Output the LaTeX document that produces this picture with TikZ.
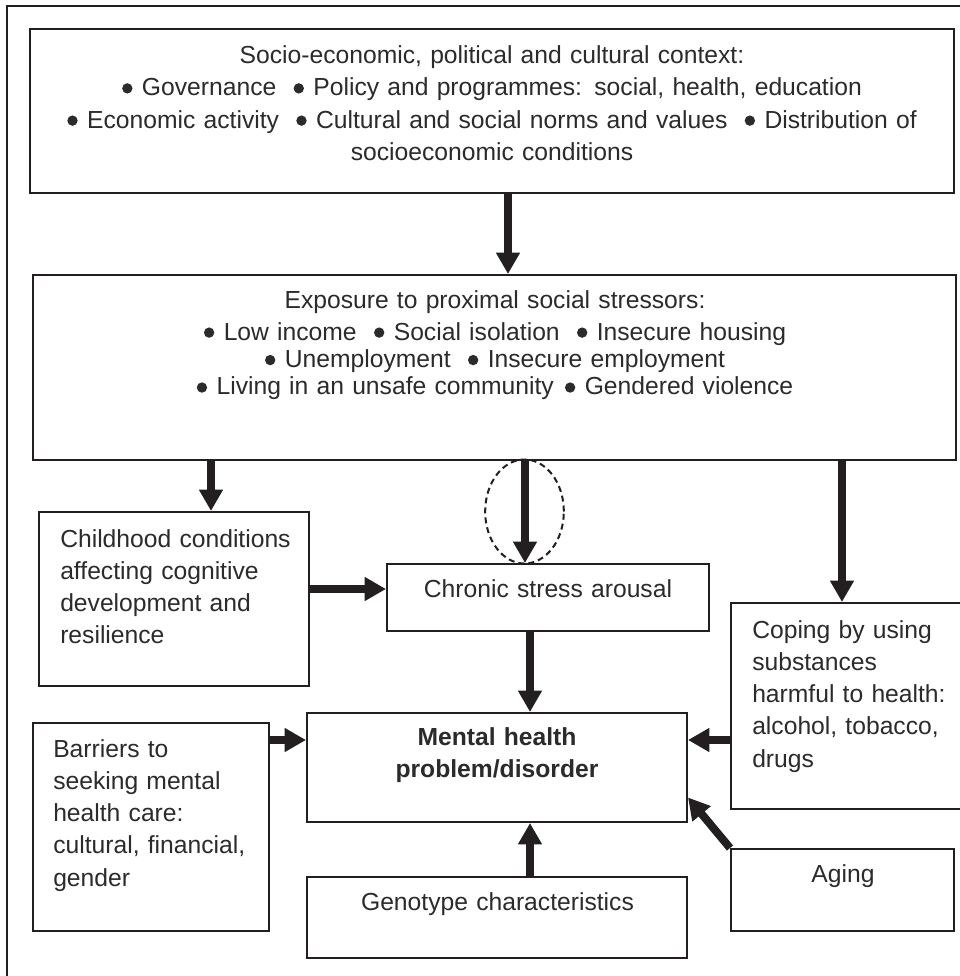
\documentclass[tikz,border=0pt]{standalone}
\usepackage{fontspec}
\setmainfont{Liberation Sans}
\usetikzlibrary{arrows.meta,fit,calc,shapes.geometric}
\definecolor{ink}{HTML}{231F20}
\definecolor{textc}{HTML}{2B2B2B}
\newcommand{\dotbul}{\tikz[baseline=0pt]\fill[textc] (0.22em,0.3em) circle[radius=0.21em];\hspace{0.05em}}
\begin{document}
\begin{tikzpicture}[x=0.75pt,y=-0.75pt,
  box/.style={draw=ink,line width=1.5pt,inner sep=0pt},
  txt/.style={inner sep=0pt,text=textc,font=\fontsize{18.5}{24.2}\selectfont},
  ctxt/.style={txt,align=center,anchor=base},
  ltxt/.style={txt,align=left,anchor=base west},
  arr/.style={draw=ink,line width=6pt,-{Triangle[length=16pt,width=17pt]}},
  focusring/.style={draw=ink,line width=1.5pt,dash pattern=on 4.5pt off 3pt,ellipse,inner sep=0pt,minimum width=59pt,minimum height=78pt}
]
\useasboundingbox (0,0) rectangle (960,976);
\fill[white] (0,0) rectangle (960,976);
\clip (0,0) rectangle (960,976);
\draw[ink,line width=1.5pt] (7,6) rectangle (968,986);

% boxes
\node[box,fit={(30,29) (954,193)}] (context) {};
\node[box,fit={(33,275) (956,460)}] (exposure) {};
\node[box,fit={(39,512) (309,686)}] (childhood) {};
\node[box,fit={(387,564) (709,631)}] (chronic) {};
\node[box,fit={(731,603) (966,809)}] (coping) {};
\node[box,fit={(307,713) (687,822)}] (mental) {};
\node[box,fit={(33,723) (269,931)}] (barriers) {};
\node[box,fit={(307,877) (687,958)}] (genotype) {};
\node[box,fit={(731,849) (954,931)}] (aging) {};

% texts
\node[ctxt,text width=690pt] (context-t) at (492,63.5) {Socio-economic, political and cultural context:\\
\dotbul{} Governance\hspace{0.7em}\dotbul{} Policy and programmes: social, health, education\\
\dotbul{} Economic activity\hspace{0.7em}\dotbul{} Cultural and social norms and values\hspace{0.7em}\dotbul{} Distribution of\\
socioeconomic conditions};
\node[ctxt,text width=690pt,font={\fontsize{18.5}{20.6}\selectfont}] (exposure-t) at (495,308) {Exposure to proximal social stressors:\\[3.4pt]
\dotbul{} Low income\hspace{0.7em}\dotbul{} Social isolation\hspace{0.7em}\dotbul{} Insecure housing\\
\dotbul{} Unemployment\hspace{0.7em}\dotbul{} Insecure employment\\
\dotbul{} Living in an unsafe community\hspace{0.45em}\dotbul{} Gendered violence};
\node[ltxt,text width=240pt] (childhood-t) at (60,547) {Childhood conditions\\ affecting cognitive\\ development and\\ resilience};
\node[ctxt,text width=300pt] (chronic-t) at (548,597) {Chronic stress arousal};
\node[ltxt,text width=170pt] (coping-t) at (752,638) {Coping by using\\ substances\\ harmful to health:\\ alcohol, tobacco,\\ drugs};
\node[ctxt,text width=270pt,font={\bfseries\fontsize{18.5}{24.6}\selectfont}] (mental-t) at (497,745) {Mental health\\ problem/disorder};
\node[ltxt,text width=170pt] (barriers-t) at (53,757) {Barriers to\\ seeking mental\\ health care:\\ cultural, financial,\\ gender};
\node[ctxt,text width=270pt] (genotype-t) at (497.5,910) {Genotype characteristics};
\node[ctxt,text width=160pt] (aging-t) at (843,882) {Aging};

% dashed ring
\node[focusring] (focus) at (524.5,511.5) {};

% connectors
\coordinate (a1) at (508,0);
\coordinate (a2) at (211,0);
\coordinate (a3) at (525,0);
\coordinate (a4) at (842,0);
\coordinate (a5) at (0,589);
\coordinate (a6) at (530,0);
\coordinate (a7) at (0,740);
\coordinate (agingtarget) at ($(mental.south east)!0.23!(mental.north east)$);
\draw[arr] (a1 |- context.south) -- (a1 |- exposure.north);
\draw[arr] (a2 |- exposure.south) -- (a2 |- childhood.north);
\draw[arr] (a3 |- exposure.south) -- (a3 |- chronic.north);
\draw[arr] (a4 |- exposure.south) -- (a4 |- coping.north);
\draw[arr] (a5 -| childhood.east) -- (a5 -| chronic.west);
\draw[arr] (a6 |- chronic.south) -- (a6 |- mental.north);
\draw[arr] (a7 -| barriers.east) -- (a7 -| mental.west);
\draw[arr] (a7 -| coping.west) -- (a7 -| mental.east);
\draw[arr] (a6 |- genotype.north) -- (a6 |- mental.south);
\draw[arr] (aging.north west) -- (agingtarget);
\end{tikzpicture}
\end{document}
